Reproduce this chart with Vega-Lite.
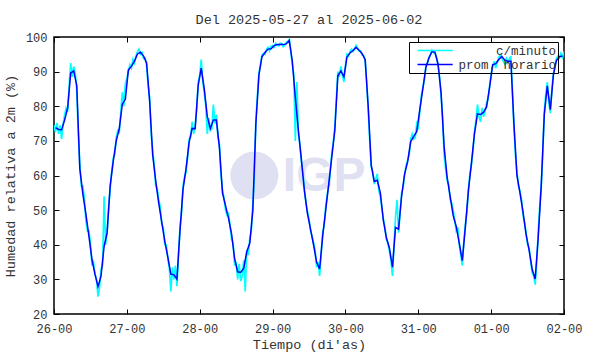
{
"$schema": "https://vega.github.io/schema/vega-lite/v6.json",
"width": 510,
"height": 277,
"autosize": "none",
"padding": {"left": 54, "top": 37, "right": 26, "bottom": 40},
"background": "white",
"title": {"text": "Del 2025-05-27 al 2025-06-02", "font": "Liberation Mono", "fontSize": 13.5, "fontWeight": "normal", "color": "#333333", "offset": 5},
"datasets": {
"minuto": [
{"t":"2025-05-26T00:00","v":74.5},{"t":"2025-05-26T00:30","v":72.5},{"t":"2025-05-26T01:00","v":75.2},{"t":"2025-05-26T01:30","v":72},{"t":"2025-05-26T02:00","v":74.5},{"t":"2025-05-26T02:30","v":70.5},{"t":"2025-05-26T03:00","v":74.8},{"t":"2025-05-26T03:30","v":77.5},{"t":"2025-05-26T04:00","v":79.5},{"t":"2025-05-26T04:30","v":78.5},{"t":"2025-05-26T05:00","v":86},{"t":"2025-05-26T05:30","v":92.5},{"t":"2025-05-26T06:00","v":88.5},{"t":"2025-05-26T06:30","v":91.5},{"t":"2025-05-26T07:00","v":89.5},{"t":"2025-05-26T07:30","v":84.5},{"t":"2025-05-26T08:00","v":72},{"t":"2025-05-26T08:30","v":63.5},{"t":"2025-05-26T09:00","v":57},{"t":"2025-05-26T09:30","v":57},{"t":"2025-05-26T10:00","v":53.5},{"t":"2025-05-26T10:30","v":47},{"t":"2025-05-26T11:00","v":44},{"t":"2025-05-26T11:30","v":44},{"t":"2025-05-26T12:00","v":40.5},{"t":"2025-05-26T12:30","v":34},{"t":"2025-05-26T13:00","v":35},{"t":"2025-05-26T13:30","v":31.5},{"t":"2025-05-26T14:00","v":30},{"t":"2025-05-26T14:30","v":25},{"t":"2025-05-26T15:00","v":27.5},{"t":"2025-05-26T15:30","v":33},{"t":"2025-05-26T16:00","v":34},{"t":"2025-05-26T16:30","v":54},{"t":"2025-05-26T17:00","v":40},{"t":"2025-05-26T17:30","v":44},{"t":"2025-05-26T18:00","v":51},{"t":"2025-05-26T18:30","v":56},{"t":"2025-05-26T19:00","v":61},{"t":"2025-05-26T19:30","v":65},{"t":"2025-05-26T20:00","v":66},{"t":"2025-05-26T20:30","v":71},{"t":"2025-05-26T21:00","v":73},{"t":"2025-05-26T21:30","v":72.5},{"t":"2025-05-26T22:00","v":78.5},{"t":"2025-05-26T22:30","v":84},{"t":"2025-05-26T23:00","v":80},{"t":"2025-05-26T23:30","v":86.5},
{"t":"2025-05-27T00:00","v":88},{"t":"2025-05-27T00:30","v":90},{"t":"2025-05-27T01:00","v":92},{"t":"2025-05-27T01:30","v":91},{"t":"2025-05-27T02:00","v":93.5},{"t":"2025-05-27T02:30","v":92.5},{"t":"2025-05-27T03:00","v":94.5},{"t":"2025-05-27T03:30","v":95.8},{"t":"2025-05-27T04:00","v":96.5},{"t":"2025-05-27T04:30","v":95},{"t":"2025-05-27T05:00","v":95.5},{"t":"2025-05-27T05:30","v":93.8},{"t":"2025-05-27T06:00","v":94},{"t":"2025-05-27T06:30","v":91.8},{"t":"2025-05-27T07:00","v":86},{"t":"2025-05-27T07:30","v":82.5},{"t":"2025-05-27T08:00","v":72},{"t":"2025-05-27T08:30","v":67.5},{"t":"2025-05-27T09:00","v":63},{"t":"2025-05-27T09:30","v":57},{"t":"2025-05-27T10:00","v":56},{"t":"2025-05-27T10:30","v":53},{"t":"2025-05-27T11:00","v":51},{"t":"2025-05-27T11:30","v":46},{"t":"2025-05-27T12:00","v":45},{"t":"2025-05-27T12:30","v":40},{"t":"2025-05-27T13:00","v":40},{"t":"2025-05-27T13:30","v":36},{"t":"2025-05-27T14:00","v":33},{"t":"2025-05-27T14:30","v":26.5},{"t":"2025-05-27T15:00","v":33.5},{"t":"2025-05-27T15:30","v":30},{"t":"2025-05-27T16:00","v":34},{"t":"2025-05-27T16:30","v":28},{"t":"2025-05-27T17:00","v":37},{"t":"2025-05-27T17:30","v":45},{"t":"2025-05-27T18:00","v":49},{"t":"2025-05-27T18:30","v":57},{"t":"2025-05-27T19:00","v":59.5},{"t":"2025-05-27T19:30","v":61},{"t":"2025-05-27T20:00","v":65},{"t":"2025-05-27T20:30","v":70.5},{"t":"2025-05-27T21:00","v":71},{"t":"2025-05-27T21:30","v":75.5},{"t":"2025-05-27T22:00","v":72},{"t":"2025-05-27T22:30","v":74.5},{"t":"2025-05-27T23:00","v":79},{"t":"2025-05-27T23:30","v":87},
{"t":"2025-05-28T00:00","v":89},{"t":"2025-05-28T00:30","v":93.5},{"t":"2025-05-28T01:00","v":87},{"t":"2025-05-28T01:30","v":84},{"t":"2025-05-28T02:00","v":80},{"t":"2025-05-28T02:30","v":72},{"t":"2025-05-28T03:00","v":76.5},{"t":"2025-05-28T03:30","v":73},{"t":"2025-05-28T04:00","v":73.5},{"t":"2025-05-28T04:30","v":80.5},{"t":"2025-05-28T05:00","v":75},{"t":"2025-05-28T05:30","v":77.5},{"t":"2025-05-28T06:00","v":71},{"t":"2025-05-28T06:30","v":69},{"t":"2025-05-28T07:00","v":60},{"t":"2025-05-28T07:30","v":56},{"t":"2025-05-28T08:00","v":53.5},{"t":"2025-05-28T08:30","v":50},{"t":"2025-05-28T09:00","v":48.5},{"t":"2025-05-28T09:30","v":49},{"t":"2025-05-28T10:00","v":45.5},{"t":"2025-05-28T10:30","v":41.5},{"t":"2025-05-28T11:00","v":40.5},{"t":"2025-05-28T11:30","v":34},{"t":"2025-05-28T12:00","v":35},{"t":"2025-05-28T12:30","v":30},{"t":"2025-05-28T13:00","v":34.5},{"t":"2025-05-28T13:30","v":29.5},{"t":"2025-05-28T14:00","v":31},{"t":"2025-05-28T14:30","v":35.5},{"t":"2025-05-28T15:00","v":26.5},{"t":"2025-05-28T15:30","v":38.5},{"t":"2025-05-28T16:00","v":37},{"t":"2025-05-28T16:30","v":42},{"t":"2025-05-28T17:00","v":44},{"t":"2025-05-28T17:30","v":52},{"t":"2025-05-28T18:00","v":60},{"t":"2025-05-28T18:30","v":76},{"t":"2025-05-28T19:00","v":83},{"t":"2025-05-28T19:30","v":89.5},{"t":"2025-05-28T20:00","v":92},{"t":"2025-05-28T20:30","v":94.8},{"t":"2025-05-28T21:00","v":95.3},{"t":"2025-05-28T21:30","v":95},{"t":"2025-05-28T22:00","v":96.4},{"t":"2025-05-28T22:30","v":97},{"t":"2025-05-28T23:00","v":96},{"t":"2025-05-28T23:30","v":97.3},
{"t":"2025-05-29T00:00","v":97.5},{"t":"2025-05-29T00:30","v":97},{"t":"2025-05-29T01:00","v":98.2},{"t":"2025-05-29T01:30","v":97.6},{"t":"2025-05-29T02:00","v":97.4},{"t":"2025-05-29T02:30","v":98.2},{"t":"2025-05-29T03:00","v":98.1},{"t":"2025-05-29T03:30","v":97.2},{"t":"2025-05-29T04:00","v":97.5},{"t":"2025-05-29T04:30","v":98.5},{"t":"2025-05-29T05:00","v":98.8},{"t":"2025-05-29T05:30","v":99.3},{"t":"2025-05-29T06:00","v":96},{"t":"2025-05-29T06:30","v":92},{"t":"2025-05-29T07:00","v":89},{"t":"2025-05-29T07:30","v":70},{"t":"2025-05-29T08:00","v":87},{"t":"2025-05-29T08:30","v":72},{"t":"2025-05-29T09:00","v":69},{"t":"2025-05-29T09:30","v":64},{"t":"2025-05-29T10:00","v":60.5},{"t":"2025-05-29T10:30","v":56},{"t":"2025-05-29T11:00","v":52},{"t":"2025-05-29T11:30","v":49.5},{"t":"2025-05-29T12:00","v":47.5},{"t":"2025-05-29T12:30","v":44},{"t":"2025-05-29T13:00","v":42.5},{"t":"2025-05-29T13:30","v":40.5},{"t":"2025-05-29T14:00","v":38.5},{"t":"2025-05-29T14:30","v":33.5},{"t":"2025-05-29T15:00","v":35},{"t":"2025-05-29T15:30","v":31},{"t":"2025-05-29T16:00","v":37},{"t":"2025-05-29T16:30","v":43.5},{"t":"2025-05-29T17:00","v":45.5},{"t":"2025-05-29T17:30","v":51},{"t":"2025-05-29T18:00","v":54.5},{"t":"2025-05-29T18:30","v":57},{"t":"2025-05-29T19:00","v":61},{"t":"2025-05-29T19:30","v":66.5},{"t":"2025-05-29T20:00","v":69.5},{"t":"2025-05-29T20:30","v":74},{"t":"2025-05-29T21:00","v":82},{"t":"2025-05-29T21:30","v":90},{"t":"2025-05-29T22:00","v":88.5},{"t":"2025-05-29T22:30","v":91.5},{"t":"2025-05-29T23:00","v":89},{"t":"2025-05-29T23:30","v":87},
{"t":"2025-05-30T00:00","v":91.5},{"t":"2025-05-30T00:30","v":95},{"t":"2025-05-30T01:00","v":94.5},{"t":"2025-05-30T01:30","v":95.8},{"t":"2025-05-30T02:00","v":96.5},{"t":"2025-05-30T02:30","v":95.8},{"t":"2025-05-30T03:00","v":96.6},{"t":"2025-05-30T03:30","v":97.6},{"t":"2025-05-30T04:00","v":96.8},{"t":"2025-05-30T04:30","v":96},{"t":"2025-05-30T05:00","v":96},{"t":"2025-05-30T05:30","v":94.8},{"t":"2025-05-30T06:00","v":94.6},{"t":"2025-05-30T06:30","v":93},{"t":"2025-05-30T07:00","v":87},{"t":"2025-05-30T07:30","v":79},{"t":"2025-05-30T08:00","v":70},{"t":"2025-05-30T08:30","v":62.5},{"t":"2025-05-30T09:00","v":61},{"t":"2025-05-30T09:30","v":57.5},{"t":"2025-05-30T10:00","v":59},{"t":"2025-05-30T10:30","v":60.5},{"t":"2025-05-30T11:00","v":55.5},{"t":"2025-05-30T11:30","v":54},{"t":"2025-05-30T12:00","v":50.5},{"t":"2025-05-30T12:30","v":47.5},{"t":"2025-05-30T13:00","v":45},{"t":"2025-05-30T13:30","v":41.5},{"t":"2025-05-30T14:00","v":40.5},{"t":"2025-05-30T14:30","v":38},{"t":"2025-05-30T15:00","v":35.5},{"t":"2025-05-30T15:30","v":31},{"t":"2025-05-30T16:00","v":40},{"t":"2025-05-30T16:30","v":48},{"t":"2025-05-30T17:00","v":53},{"t":"2025-05-30T17:30","v":43.5},{"t":"2025-05-30T18:00","v":49},{"t":"2025-05-30T18:30","v":55},{"t":"2025-05-30T19:00","v":56.5},{"t":"2025-05-30T19:30","v":60},{"t":"2025-05-30T20:00","v":63},{"t":"2025-05-30T20:30","v":64.5},{"t":"2025-05-30T21:00","v":66},{"t":"2025-05-30T21:30","v":70.5},{"t":"2025-05-30T22:00","v":72},{"t":"2025-05-30T22:30","v":70.5},{"t":"2025-05-30T23:00","v":71},{"t":"2025-05-30T23:30","v":75},
{"t":"2025-05-31T00:00","v":74},{"t":"2025-05-31T00:30","v":78.5},{"t":"2025-05-31T01:00","v":83},{"t":"2025-05-31T01:30","v":85.5},{"t":"2025-05-31T02:00","v":87.5},{"t":"2025-05-31T02:30","v":91.5},{"t":"2025-05-31T03:00","v":92.5},{"t":"2025-05-31T03:30","v":94},{"t":"2025-05-31T04:00","v":95},{"t":"2025-05-31T04:30","v":96.2},{"t":"2025-05-31T05:00","v":95.5},{"t":"2025-05-31T05:30","v":95.2},{"t":"2025-05-31T06:00","v":94.2},{"t":"2025-05-31T06:30","v":92},{"t":"2025-05-31T07:00","v":88.5},{"t":"2025-05-31T07:30","v":83},{"t":"2025-05-31T08:00","v":77},{"t":"2025-05-31T08:30","v":66},{"t":"2025-05-31T09:00","v":62},{"t":"2025-05-31T09:30","v":58.5},{"t":"2025-05-31T10:00","v":57.5},{"t":"2025-05-31T10:30","v":53},{"t":"2025-05-31T11:00","v":52},{"t":"2025-05-31T11:30","v":50},{"t":"2025-05-31T12:00","v":47},{"t":"2025-05-31T12:30","v":44},{"t":"2025-05-31T13:00","v":45},{"t":"2025-05-31T13:30","v":40},{"t":"2025-05-31T14:00","v":37},{"t":"2025-05-31T14:30","v":34},{"t":"2025-05-31T15:00","v":41},{"t":"2025-05-31T15:30","v":46},{"t":"2025-05-31T16:00","v":49},{"t":"2025-05-31T16:30","v":56},{"t":"2025-05-31T17:00","v":60.5},{"t":"2025-05-31T17:30","v":63},{"t":"2025-05-31T18:00","v":67},{"t":"2025-05-31T18:30","v":72.5},{"t":"2025-05-31T19:00","v":76},{"t":"2025-05-31T19:30","v":80.5},{"t":"2025-05-31T20:00","v":77},{"t":"2025-05-31T20:30","v":75.5},{"t":"2025-05-31T21:00","v":79.5},{"t":"2025-05-31T21:30","v":77},{"t":"2025-05-31T22:00","v":78.5},{"t":"2025-05-31T22:30","v":81},{"t":"2025-05-31T23:00","v":82},{"t":"2025-05-31T23:30","v":86},
{"t":"2025-06-01T00:00","v":89.5},{"t":"2025-06-01T00:30","v":91.5},{"t":"2025-06-01T01:00","v":93},{"t":"2025-06-01T01:30","v":91},{"t":"2025-06-01T02:00","v":92.5},{"t":"2025-06-01T02:30","v":94.2},{"t":"2025-06-01T03:00","v":94.8},{"t":"2025-06-01T03:30","v":93.8},{"t":"2025-06-01T04:00","v":93},{"t":"2025-06-01T04:30","v":92.2},{"t":"2025-06-01T05:00","v":93.8},{"t":"2025-06-01T05:30","v":92.6},{"t":"2025-06-01T06:00","v":93.6},{"t":"2025-06-01T06:30","v":94.5},{"t":"2025-06-01T07:00","v":85},{"t":"2025-06-01T07:30","v":74},{"t":"2025-06-01T08:00","v":66},{"t":"2025-06-01T08:30","v":61},{"t":"2025-06-01T09:00","v":57},{"t":"2025-06-01T09:30","v":55.5},{"t":"2025-06-01T10:00","v":53},{"t":"2025-06-01T10:30","v":48.5},{"t":"2025-06-01T11:00","v":46.5},{"t":"2025-06-01T11:30","v":43.5},{"t":"2025-06-01T12:00","v":40},{"t":"2025-06-01T12:30","v":39},{"t":"2025-06-01T13:00","v":35.5},{"t":"2025-06-01T13:30","v":32},{"t":"2025-06-01T14:00","v":31},{"t":"2025-06-01T14:30","v":28.5},{"t":"2025-06-01T15:00","v":34.5},{"t":"2025-06-01T15:30","v":43.5},{"t":"2025-06-01T16:00","v":51},{"t":"2025-06-01T16:30","v":57},{"t":"2025-06-01T17:00","v":66},{"t":"2025-06-01T17:30","v":78.5},{"t":"2025-06-01T18:00","v":83.5},{"t":"2025-06-01T18:30","v":87},{"t":"2025-06-01T19:00","v":81},{"t":"2025-06-01T19:30","v":78},{"t":"2025-06-01T20:00","v":85},{"t":"2025-06-01T20:30","v":89.5},{"t":"2025-06-01T21:00","v":91.5},{"t":"2025-06-01T21:30","v":93.8},{"t":"2025-06-01T22:00","v":94.5},{"t":"2025-06-01T22:30","v":94},{"t":"2025-06-01T23:00","v":95.3},{"t":"2025-06-01T23:30","v":94.2},{"t":"2025-06-02T00:00","v":95.8}
],
"horario": [
{"t":"2025-05-26T00:30","v":73.8},{"t":"2025-05-26T01:30","v":73.3},{"t":"2025-05-26T02:30","v":73.2},{"t":"2025-05-26T03:30","v":76},{"t":"2025-05-26T04:30","v":79.5},{"t":"2025-05-26T05:30","v":89.6},{"t":"2025-05-26T06:30","v":90.2},{"t":"2025-05-26T07:30","v":86},{"t":"2025-05-26T08:30","v":62},{"t":"2025-05-26T09:30","v":54.7},{"t":"2025-05-26T10:30","v":48.9},{"t":"2025-05-26T11:30","v":42.5},{"t":"2025-05-26T12:30","v":35.8},{"t":"2025-05-26T13:30","v":31.5},{"t":"2025-05-26T14:30","v":27.9},{"t":"2025-05-26T15:30","v":31},{"t":"2025-05-26T16:30","v":39.5},{"t":"2025-05-26T17:30","v":43.5},{"t":"2025-05-26T18:30","v":57},{"t":"2025-05-26T19:30","v":64},{"t":"2025-05-26T20:30","v":70},{"t":"2025-05-26T21:30","v":73.5},{"t":"2025-05-26T22:30","v":80.6},{"t":"2025-05-26T23:30","v":82},
{"t":"2025-05-27T00:30","v":90.5},{"t":"2025-05-27T01:30","v":91.5},{"t":"2025-05-27T02:30","v":93},{"t":"2025-05-27T03:30","v":95.1},{"t":"2025-05-27T04:30","v":95.6},{"t":"2025-05-27T05:30","v":94.5},{"t":"2025-05-27T06:30","v":92.5},{"t":"2025-05-27T07:30","v":81.6},{"t":"2025-05-27T08:30","v":66},{"t":"2025-05-27T09:30","v":58.5},{"t":"2025-05-27T10:30","v":52},{"t":"2025-05-27T11:30","v":46.5},{"t":"2025-05-27T12:30","v":41},{"t":"2025-05-27T13:30","v":36.4},{"t":"2025-05-27T14:30","v":31.5},{"t":"2025-05-27T15:30","v":31.3},{"t":"2025-05-27T16:30","v":30.1},{"t":"2025-05-27T17:30","v":44},{"t":"2025-05-27T18:30","v":56},{"t":"2025-05-27T19:30","v":62},{"t":"2025-05-27T20:30","v":69.5},{"t":"2025-05-27T21:30","v":73.6},{"t":"2025-05-27T22:30","v":73.5},{"t":"2025-05-27T23:30","v":86},
{"t":"2025-05-28T00:30","v":91},{"t":"2025-05-28T01:30","v":85},{"t":"2025-05-28T02:30","v":77},{"t":"2025-05-28T03:30","v":73.6},{"t":"2025-05-28T04:30","v":76},{"t":"2025-05-28T05:30","v":76},{"t":"2025-05-28T06:30","v":68},{"t":"2025-05-28T07:30","v":55},{"t":"2025-05-28T08:30","v":51.3},{"t":"2025-05-28T09:30","v":47.6},{"t":"2025-05-28T10:30","v":43.1},{"t":"2025-05-28T11:30","v":36},{"t":"2025-05-28T12:30","v":32.2},{"t":"2025-05-28T13:30","v":32},{"t":"2025-05-28T14:30","v":33.2},{"t":"2025-05-28T15:30","v":38},{"t":"2025-05-28T16:30","v":40.5},{"t":"2025-05-28T17:30","v":50},{"t":"2025-05-28T18:30","v":75},{"t":"2025-05-28T19:30","v":89},{"t":"2025-05-28T20:30","v":94.3},{"t":"2025-05-28T21:30","v":95.5},{"t":"2025-05-28T22:30","v":96.5},{"t":"2025-05-28T23:30","v":96.6},
{"t":"2025-05-29T00:30","v":97.5},{"t":"2025-05-29T01:30","v":97.8},{"t":"2025-05-29T02:30","v":97.8},{"t":"2025-05-29T03:30","v":97.8},{"t":"2025-05-29T04:30","v":98},{"t":"2025-05-29T05:30","v":99},{"t":"2025-05-29T06:30","v":93},{"t":"2025-05-29T07:30","v":82.5},{"t":"2025-05-29T08:30","v":73},{"t":"2025-05-29T09:30","v":64.5},{"t":"2025-05-29T10:30","v":55.5},{"t":"2025-05-29T11:30","v":49},{"t":"2025-05-29T12:30","v":44.5},{"t":"2025-05-29T13:30","v":40},{"t":"2025-05-29T14:30","v":35},{"t":"2025-05-29T15:30","v":33},{"t":"2025-05-29T16:30","v":42.5},{"t":"2025-05-29T17:30","v":50},{"t":"2025-05-29T18:30","v":57.5},{"t":"2025-05-29T19:30","v":65.3},{"t":"2025-05-29T20:30","v":73},{"t":"2025-05-29T21:30","v":88.8},{"t":"2025-05-29T22:30","v":90.2},{"t":"2025-05-29T23:30","v":88.5},
{"t":"2025-05-30T00:30","v":94.2},{"t":"2025-05-30T01:30","v":95.4},{"t":"2025-05-30T02:30","v":96.1},{"t":"2025-05-30T03:30","v":97},{"t":"2025-05-30T04:30","v":96.2},{"t":"2025-05-30T05:30","v":95.2},{"t":"2025-05-30T06:30","v":93.5},{"t":"2025-05-30T07:30","v":80},{"t":"2025-05-30T08:30","v":63},{"t":"2025-05-30T09:30","v":58.3},{"t":"2025-05-30T10:30","v":58.6},{"t":"2025-05-30T11:30","v":55},{"t":"2025-05-30T12:30","v":47},{"t":"2025-05-30T13:30","v":42},{"t":"2025-05-30T14:30","v":39},{"t":"2025-05-30T15:30","v":33.5},{"t":"2025-05-30T16:30","v":45},{"t":"2025-05-30T17:30","v":44.5},{"t":"2025-05-30T18:30","v":54},{"t":"2025-05-30T19:30","v":60.5},{"t":"2025-05-30T20:30","v":64},{"t":"2025-05-30T21:30","v":69.8},{"t":"2025-05-30T22:30","v":71.3},{"t":"2025-05-30T23:30","v":72.7},
{"t":"2025-05-31T00:30","v":79},{"t":"2025-05-31T01:30","v":85},{"t":"2025-05-31T02:30","v":91.2},{"t":"2025-05-31T03:30","v":93.9},{"t":"2025-05-31T04:30","v":95.8},{"t":"2025-05-31T05:30","v":95.6},{"t":"2025-05-31T06:30","v":92.2},{"t":"2025-05-31T07:30","v":84},{"t":"2025-05-31T08:30","v":68.5},{"t":"2025-05-31T09:30","v":59.5},{"t":"2025-05-31T10:30","v":54},{"t":"2025-05-31T11:30","v":48.4},{"t":"2025-05-31T12:30","v":45.3},{"t":"2025-05-31T13:30","v":40.5},{"t":"2025-05-31T14:30","v":35.4},{"t":"2025-05-31T15:30","v":45},{"t":"2025-05-31T16:30","v":55.5},{"t":"2025-05-31T17:30","v":63.5},{"t":"2025-05-31T18:30","v":72},{"t":"2025-05-31T19:30","v":77.8},{"t":"2025-05-31T20:30","v":77.6},{"t":"2025-05-31T21:30","v":78.3},{"t":"2025-05-31T22:30","v":79.8},{"t":"2025-05-31T23:30","v":85.5},
{"t":"2025-06-01T00:30","v":92},{"t":"2025-06-01T01:30","v":92.3},{"t":"2025-06-01T02:30","v":93.5},{"t":"2025-06-01T03:30","v":94.4},{"t":"2025-06-01T04:30","v":93.3},{"t":"2025-06-01T05:30","v":93},{"t":"2025-06-01T06:30","v":93},{"t":"2025-06-01T07:30","v":75},{"t":"2025-06-01T08:30","v":60},{"t":"2025-06-01T09:30","v":55},{"t":"2025-06-01T10:30","v":49.5},{"t":"2025-06-01T11:30","v":43},{"t":"2025-06-01T12:30","v":38.5},{"t":"2025-06-01T13:30","v":33},{"t":"2025-06-01T14:30","v":30.1},{"t":"2025-06-01T15:30","v":42},{"t":"2025-06-01T16:30","v":57},{"t":"2025-06-01T17:30","v":77.5},{"t":"2025-06-01T18:30","v":85.9},{"t":"2025-06-01T19:30","v":79},{"t":"2025-06-01T20:30","v":89},{"t":"2025-06-01T21:30","v":93.2},{"t":"2025-06-01T22:30","v":94.3},{"t":"2025-06-01T23:30","v":94.5}
]
},
"layer": [
{
"data": {"values": [{"marca": "IGP"}]},
"mark": {"type": "point", "filled": true, "size": 2304, "color": "#e0e0f3", "opacity": 1},
"encoding": {
"x": {"datum": {"year": 2025, "month": 5, "date": 28, "hours": 18}, "type": "temporal", "axis": null, "scale": {"domain": [{"year": 2025, "month": 5, "date": 26}, {"year": 2025, "month": 6, "date": 2}]}},
"y": {"datum": 60, "type": "quantitative", "axis": null, "scale": {"domain": [20, 100]}}
}
},
{
"data": {"values": [{"marca": "IGP"}]},
"mark": {"type": "text", "font": "Liberation Sans", "fontWeight": "bold", "fontSize": 48, "color": "#e0e0f3", "baseline": "middle", "align": "center"},
"encoding": {
"x": {"datum": {"year": 2025, "month": 5, "date": 29, "hours": 17, "minutes": 0}, "type": "temporal", "axis": null},
"y": {"datum": 59.5, "type": "quantitative", "axis": null},
"text": {"field": "marca"}
}
},
{
"data": {"name": "minuto"},
"mark": {"type": "line", "strokeWidth": 1.7, "clip": true},
"encoding": {
"x": {"field": "t", "type": "temporal", "scale": {"domain": [{"year": 2025, "month": 5, "date": 26}, {"year": 2025, "month": 6, "date": 2}]}, "axis": {"orient": "bottom", "format": "%d-%H", "tickCount": {"interval": "day", "step": 1}, "labelFlush": false, "labelOverlap": false, "title": "Tiempo (di'as)", "labelPadding": 14, "titlePadding": 3}},
"y": {"field": "v", "type": "quantitative", "scale": {"domain": [20, 100]}, "axis": {"orient": "left", "values": [20, 30, 40, 50, 60, 70, 80, 90, 100], "title": "Humedad relativa a 2m (%)", "labelPadding": 12, "titlePadding": 8}},
"color": {"datum": "c/minuto", "scale": {"domain": ["c/minuto", "prom. horario"], "range": ["#00ffff", "#0000ff"]}, "legend": {"orient": "none", "legendX": 355, "legendY": 5, "title": null}}
}
},
{
"data": {"name": "horario"},
"mark": {"type": "line", "strokeWidth": 1.5, "clip": true},
"encoding": {
"x": {"field": "t", "type": "temporal", "axis": {"orient": "top", "labels": false, "grid": false, "title": null, "tickCount": {"interval": "day", "step": 1}}},
"y": {"field": "v", "type": "quantitative", "axis": {"orient": "right", "labels": false, "grid": false, "title": null, "values": [20, 30, 40, 50, 60, 70, 80, 90, 100]}},
"color": {"datum": "prom. horario"}
}
}
],
"resolve": {"axis": {"x": "independent", "y": "independent"}},
"config": {
"view": {"stroke": "black", "strokeWidth": 1.5},
"axis": {"domain": false, "grid": true, "gridColor": "#a0a0a0", "gridDash": [2, 3], "gridWidth": 1, "tickColor": "black", "tickSize": -5, "tickWidth": 1, "labelFont": "Liberation Mono", "labelFontSize": 12, "labelColor": "#333333", "titleFont": "Liberation Mono", "titleFontSize": 13.5, "titleFontWeight": "normal", "titleColor": "#333333"},
"legend": {"strokeColor": "black", "padding": 2, "symbolType": "M0,0H6.4", "symbolSize": 121, "symbolStrokeWidth": 1.5, "labelFont": "Liberation Mono", "labelFontSize": 12.5, "labelColor": "#333333", "labelAlign": "right", "labelOffset": 132, "rowPadding": 1}
}
}
